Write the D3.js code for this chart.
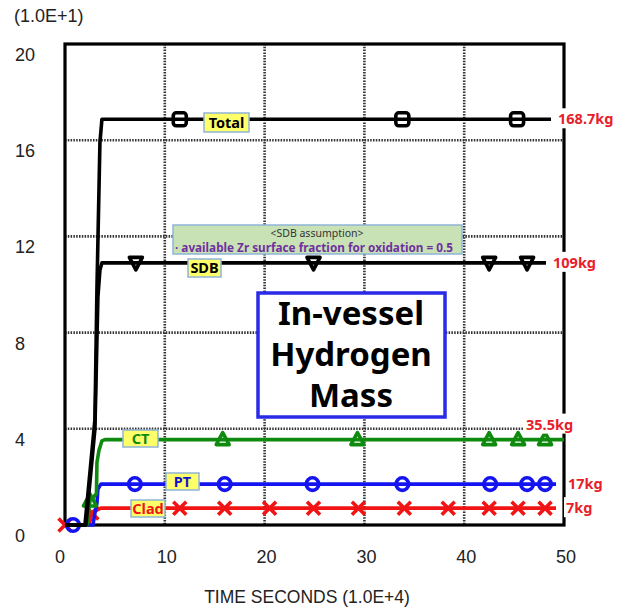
<!DOCTYPE html>
<html>
<head>
<meta charset="utf-8">
<script src="https://cdn.jsdelivr.net/npm/d3@7"></script>
<style>
  html, body { margin: 0; padding: 0; background: #fff; }
  svg { display: block; }
</style>
</head>
<body>
<svg id="chart" width="622" height="609"></svg>
<script>
// Axis ticks (time in 1.0E+4 s, mass in 1.0E+1 kg)
const xTicks = [0, 10, 20, 30, 40, 50];
const yTicks = [0, 4, 8, 12, 16, 20];
const xGrid = [10, 20, 30, 40];
const yGrid = [4, 8, 12, 16];

// Hydrogen mass histories [time, mass]
const totalData = [[0, 0], [2.0, 0], [3.0, 4.4], [3.2, 9.8], [3.5, 15.9], [3.7, 16.87], [48.7, 16.87]];
const sdbData   = [[0, 0], [2.1, 0], [3.0, 4.0], [3.3, 9.5], [3.5, 10.6], [3.7, 10.9], [48.2, 10.9]];
const ctData    = [[0, 0], [2.2, 0], [2.5, 1.0], [3.15, 1.3], [3.2, 2.6], [3.4, 3.1], [3.7, 3.5], [4.0, 3.55], [50, 3.55]];
const ptData    = [[0, 0], [2.8, 0], [3.0, 0.5], [3.2, 0.9], [3.3, 1.5], [3.6, 1.7], [49.2, 1.7]];
const cladData  = [[0, 0], [2.4, 0], [2.7, 0.5], [3.2, 0.62], [3.6, 0.7], [49.2, 0.7]];

// Times at which symbols are plotted on each curve
const totalMarks = [11.5, 33.8, 45.3];
const sdbMarks   = [7.1, 24.9, 42.5, 46.3];
const ctMarks    = [2.5, 15.8, 29.3, 42.5, 45.4, 48.1];
const ptMarks    = [0.8, 7.0, 16.0, 24.8, 33.8, 42.6, 46.3, 48.1];
const cladMarks  = [0, 2.7, 11.5, 16.0, 20.5, 24.9, 29.4, 34.0, 38.4, 42.5, 45.4, 48.1];

// Final masses shown at the right end
const finalLabels = ["168.7kg", "109kg", "35.5kg", "17kg", "7kg"];
const seriesNames = ["Total", "SDB", "CT", "PT", "Clad"];

const svg = d3.select("#chart");
const plotL = 65, plotR = 564, plotT = 44, plotB = 525;

const x = d3.scaleLinear().domain([0, 50]).range([plotL, plotR]);
const y = d3.scaleLinear().domain([0, 20]).range([plotB, plotT]);

// Value of a curve at time t (linear between samples)
function valueAt(data, t) {
  if (t <= data[0][0]) return data[0][1];
  for (let i = 1; i < data.length; i++) {
    if (t <= data[i][0]) {
      const [t0, v0] = data[i - 1], [t1, v1] = data[i];
      return v0 + (v1 - v0) * (t - t0) / (t1 - t0);
    }
  }
  return data[data.length - 1][1];
}

// Grid
const grid = svg.append("g").attr("stroke", "#333").attr("stroke-width", 2.6).attr("stroke-dasharray", "1.5,1.3");
xGrid.forEach(v => grid.append("line").attr("x1", x(v)).attr("x2", x(v)).attr("y1", plotT).attr("y2", plotB));
yGrid.forEach(v => grid.append("line").attr("y1", y(v)).attr("y2", y(v)).attr("x1", plotL).attr("x2", plotR));

// Frame
svg.append("rect").attr("x", plotL).attr("y", plotT).attr("width", plotR - plotL).attr("height", plotB - plotT)
  .attr("fill", "none").attr("stroke", "#000").attr("stroke-width", 3.2);

// Tick labels
const tickFont = "'Liberation Sans', Arial, sans-serif";
svg.append("g").selectAll("text").data(yTicks).join("text")
  .attr("x", 15).attr("y", d => y(d) + 17)
  .attr("font-family", tickFont).attr("font-size", 18).attr("fill", "#222")
  .text(d => d);
svg.append("g").selectAll("text").data(xTicks).join("text")
  .attr("x", d => x(d) + (d === 0 ? -5 : 2)).attr("y", 563)
  .attr("text-anchor", "middle")
  .attr("font-family", tickFont).attr("font-size", 18).attr("fill", "#222")
  .text(d => d);
svg.append("text").attr("x", 14).attr("y", 22)
  .attr("font-family", tickFont).attr("font-size", 18).attr("fill", "#222").text("(1.0E+1)");
svg.append("text").attr("x", 307).attr("y", 603).attr("text-anchor", "middle")
  .attr("font-family", tickFont).attr("font-size", 17.5).attr("fill", "#222").text("TIME SECONDS (1.0E+4)");

// Annotation boxes
const lblFont = "'Noto Sans', 'Open Sans', sans-serif";
const note = svg.append("g");
note.append("rect").attr("x", 173).attr("y", 225).attr("width", 289).attr("height", 29)
  .attr("fill", "#c8e2b6").attr("stroke", "#8fb4d8").attr("stroke-width", 1.5);
note.append("text").attr("x", 317).attr("y", 237).attr("text-anchor", "middle")
  .attr("font-family", lblFont).attr("font-size", 10.5).attr("fill", "#333").text("<SDB assumption>");
note.append("text").attr("x", 175).attr("y", 251.5)
  .attr("font-family", lblFont).attr("font-size", 11.5).attr("font-weight", "bold").attr("fill", "#7030a0")
  .attr("textLength", 278).attr("lengthAdjust", "spacingAndGlyphs")
  .text("· available Zr surface fraction for oxidation = 0.5");

const titleBox = svg.append("g");
titleBox.append("rect").attr("x", 258).attr("y", 293).attr("width", 187).attr("height", 124)
  .attr("fill", "#fff").attr("stroke", "#2a2ae8").attr("stroke-width", 3.5);
["In-vessel", "Hydrogen", "Mass"].forEach((s, i) => {
  titleBox.append("text").attr("x", 351).attr("y", 325 + i * 41).attr("text-anchor", "middle")
    .attr("font-family", lblFont).attr("font-size", 33).attr("font-weight", "bold").attr("fill", "#000").text(s);
});

// Curves
const line = d3.line().x(d => x(d[0])).y(d => y(d[1]));
const series = [
  { name: "Clad", data: cladData, marks: cladMarks, color: "#f01414", shape: "x" },
  { name: "PT", data: ptData, marks: ptMarks, color: "#1414f0", shape: "circle" },
  { name: "CT", data: ctData, marks: ctMarks, color: "#0e8a0e", shape: "up" },
  { name: "SDB", data: sdbData, marks: sdbMarks, color: "#000", shape: "down" },
  { name: "Total", data: totalData, marks: totalMarks, color: "#000", shape: "square" }
];

series.forEach(s => {
  const g = svg.append("g");
  g.append("path").attr("d", line(s.data)).attr("fill", "none")
    .attr("stroke", s.color).attr("stroke-width", 3.6).attr("stroke-linejoin", "round");
  s.marks.forEach(t => {
    const cx = x(t), cy = y(valueAt(s.data, t));
    const m = g.append("g").attr("transform", `translate(${cx},${cy})`)
      .attr("fill", "none").attr("stroke", s.color).attr("stroke-width", 3.6);
    if (s.shape === "square") {
      m.append("rect").attr("x", -6.5).attr("y", -6.5).attr("width", 13).attr("height", 13).attr("rx", 3);
    } else if (s.shape === "circle") {
      m.append("circle").attr("r", 6.3);
    } else if (s.shape === "up") {
      m.append("path").attr("d", "M0,-7L6.5,5L-6.5,5Z").attr("stroke-linejoin", "round");
    } else if (s.shape === "down") {
      m.append("path").attr("d", "M-6.5,-5.5L6.5,-5.5L0,7Z").attr("stroke-linejoin", "round");
    } else {
      m.append("path").attr("d", "M-6.5,-6.5L6.5,6.5M-6.5,6.5L6.5,-6.5");
    }
  });
});

// Curve name tags
const tags = [
  { name: "Total", x0: 204, y0: 113, w: 45, h: 19, color: "#000" },
  { name: "SDB", x0: 188, y0: 259, w: 33, h: 18, color: "#000" },
  { name: "CT", x0: 123, y0: 430, w: 35, h: 17, color: "#0e8a0e" },
  { name: "PT", x0: 166, y0: 473, w: 33, h: 17, color: "#1414c8" },
  { name: "Clad", x0: 131, y0: 500, w: 34, h: 17, color: "#f01414" }
];
tags.forEach(t => {
  const g = svg.append("g");
  g.append("rect").attr("x", t.x0).attr("y", t.y0).attr("width", t.w).attr("height", t.h)
    .attr("fill", "#ffff6a").attr("stroke", "#8fb4d8").attr("stroke-width", 1.5);
  g.append("text").attr("x", t.x0 + t.w / 2).attr("y", t.y0 + t.h / 2 + 5).attr("text-anchor", "middle")
    .attr("font-family", lblFont).attr("font-size", 14.5).attr("font-weight", "bold").attr("fill", t.color)
    .text(t.name);
});

// Final values at the right end
const endLabels = [
  { text: finalLabels[0], x0: 558, v: totalData[totalData.length - 1][1] },
  { text: finalLabels[1], x0: 553, v: sdbData[sdbData.length - 1][1] },
  { text: finalLabels[2], x0: 526, v: ctData[ctData.length - 1][1], dy: -15 },
  { text: finalLabels[3], x0: 568, v: ptData[ptData.length - 1][1] },
  { text: finalLabels[4], x0: 566, v: cladData[cladData.length - 1][1] }
];
endLabels.forEach(l => {
  const cy = y(l.v) + (l.dy || 0);
  const g = svg.append("g");
  const txt = g.append("text").attr("x", l.x0).attr("y", cy + 5)
    .attr("font-family", lblFont).attr("font-size", 14.5).attr("font-weight", "bold").attr("fill", "#e8202a")
    .text(l.text);
  const bb = txt.node().getBBox();
  g.insert("rect", "text").attr("x", bb.x - 2).attr("y", bb.y).attr("width", bb.width + 4).attr("height", bb.height)
    .attr("fill", "#fff");
});
</script>
</body>
</html>
